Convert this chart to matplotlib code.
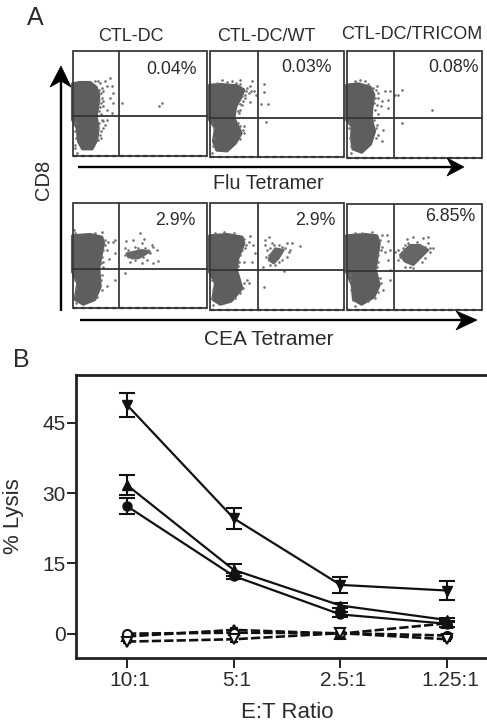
import matplotlib
matplotlib.use("Agg")
import matplotlib.pyplot as plt
from matplotlib.patches import Polygon, Rectangle
from matplotlib.transforms import ScaledTranslation

plt.rcParams['font.family'] = ['Liberation Sans', 'DejaVu Sans']

W, H = 487, 725

# lysis data
ratios = ["10:1", "5:1", "2.5:1", "1.25:1"]
ticks_y = [0, 15, 30, 45]
down_filled = [48.8, 24.6, 10.4, 9.2]
down_filled_err = [2.5, 2.2, 1.7, 2.1]
up_filled = [31.7, 13.6, 6.0, 2.9]
up_filled_err = [2.2, 1.3, 0.5, 0.5]
circ_filled = [27.2, 12.3, 4.1, 2.1]
circ_filled_err = [1.7, 0.7, 0.5, 0.6]
circ_open = [0.0, 0.2, 0.1, -0.4]
up_open = [-0.6, 0.8, 0.0, 2.2]
down_open = [-1.7, -1.2, 0.1, -1.2]
dash_err = [0.4, 0.5, 0.3, 0.4]

# flow panels, read in crop units (420 x 336 for each panel)
titles = ["CTL-DC", "CTL-DC/WT", "CTL-DC/TRICOM"]
percents = ["0.04%", "0.03%", "0.08%", "2.9%", "2.9%", "6.85%"]
frames = [(8, 412, 8, 325), (8, 412, 10, 328), (5, 412, 10, 330),
          (8, 412, 8, 325), (8, 412, 10, 330), (5, 412, 12, 330)]
gates = [(148, 205), (153, 210), (148, 210), (148, 207), (152, 210), (148, 212)]

clouds = [
    [(8,108),(30,104),(60,104),(78,118),(86,140),(84,170),(78,205),(84,240),(80,275),(66,302),(38,302),(26,280),(22,240),(8,215)],
    [(8,112),(40,110),(90,114),(110,126),(100,150),(86,175),(80,210),(102,255),(85,285),(60,308),(30,306),(20,280),(26,240),(8,215)],
    [(5,112),(40,108),(75,118),(86,140),(80,180),(78,210),(88,250),(76,288),(50,312),(24,302),(20,270),(22,235),(5,215)],
    [(8,108),(60,104),(95,112),(100,130),(92,170),(86,205),(90,260),(74,298),(40,312),(16,298),(24,250),(8,215)],
    [(8,108),(60,104),(105,112),(110,130),(92,175),(88,210),(104,265),(72,303),(40,312),(18,298),(26,250),(8,215)],
    [(5,108),(60,104),(95,108),(102,130),(96,170),(90,208),(102,255),(86,290),(50,312),(26,298),(22,255),(5,215)],
]
clusters = [
    None, None, None,
    [(170,160),(215,150),(240,155),(205,175),(175,172)],
    [(190,165),(205,145),(230,150),(215,175),(200,190),(185,180)],
    [(165,165),(195,135),(225,135),(250,150),(225,175),(205,195),(180,185)],
]
dots = [
    [(120,90),(125,115),(110,115),(130,135),(120,150),(128,165),(100,130),(105,100),(90,105),(95,150),(125,195),(100,175),(110,185),(155,165),(275,165),(268,175),(110,215),(100,240),(105,230),(90,260),(85,275),(95,215),(88,125),(92,165),(88,190),(84,240),(88,225),(15,250),(18,270),(14,290),(96,120),(94,135),(100,160),(90,178),(88,155),(92,198),(94,248),(92,270),(98,220),(75,98),(85,100),(14,225),(16,300),(22,315)],
    [(45,97),(75,100),(100,95),(135,100),(170,107),(170,133),(162,167),(182,167),(178,222),(130,115),(140,130),(148,140),(128,163),(115,140),(120,120),(105,170),(100,185),(95,195),(110,235),(100,235),(112,255),(92,225),(115,150),(125,135),(20,240),(22,270),(18,295),(118,130),(132,128),(108,158),(98,168),(92,188),(106,145),(100,108),(88,105),(60,102),(30,104),(108,245),(100,272),(14,225),(16,315)],
    [(45,97),(60,100),(95,115),(100,135),(120,130),(135,130),(150,140),(170,127),(160,140),(130,155),(110,160),(108,175),(95,170),(90,185),(98,198),(262,187),(170,225),(115,245),(100,260),(112,280),(95,230),(88,215),(12,240),(15,270),(18,295),(128,180),(92,125),(90,150),(98,150),(88,165),(94,240),(94,270),(30,100),(70,108),(84,120),(12,225),(18,315)],
    [(95,97),(115,125),(130,125),(135,120),(105,135),(110,150),(135,160),(118,178),(100,185),(98,200),(135,240),(110,258),(95,225),(165,218),(15,240),(18,265),(14,285),(104,120),(98,150),(96,170),(92,190),(94,240),(96,270),(82,290),(75,98),(12,90),(14,100),(18,310),
     (210,100),(168,122),(190,120),(222,118),(245,135),(250,140),(215,130),(195,140),(165,145),(260,150),(240,160),(265,182),(248,188),(232,180),(215,190),(180,185),(195,180),(165,165),(185,155),(205,145),(225,145),(175,150),(200,165),(220,170),(235,150),(185,175)],
    [(130,108),(125,125),(138,135),(115,145),(145,158),(135,185),(112,185),(120,240),(125,250),(108,265),(170,262),(230,212),(168,200),(15,240),(18,270),(16,295),(112,118),(116,135),(106,150),(100,165),(96,185),(92,198),(110,250),(100,280),(85,295),(50,97),(80,100),(25,98),(18,315),
     (175,120),(185,112),(175,135),(195,130),(180,150),(215,135),(240,130),(255,128),(278,138),(245,155),(240,170),(225,180),(190,195),(178,170),(235,145),(250,150),(190,145),(200,135),(225,140),(185,165),(205,195),(215,185)],
    [(80,95),(110,105),(125,105),(128,122),(110,140),(120,155),(135,150),(130,180),(135,210),(135,240),(115,270),(105,235),(15,240),(18,270),(25,300),(104,120),(108,150),(100,165),(98,185),(95,200),(108,250),(100,275),(90,295),(50,98),(30,100),(16,225),(30,318),(70,302),
     (185,118),(205,112),(235,115),(250,110),(215,125),(250,130),(265,145),(255,155),(160,150),(150,155),(175,145),(160,180),(240,175),(180,200),(205,205),(190,130),(170,155),(240,140),(255,145),(180,135),(230,185),(165,172),(195,200)],
]
# arrow shafts and heads on the page, in pixels
arrows = [
    ((61, 311), (61, 80), [(61, 66), (71, 87), (61, 81), (50, 87)]),
    ((78, 167), (452, 167), [(464, 167), (447, 176), (452, 167), (447, 158)]),
    ((80, 320), (462, 320), [(477, 320), (456, 330), (462, 320), (456, 311)]),
]


def px_rect(l, t, w, h):
    return [l / W, 1 - (t + h) / H, w / W, h / H]


fig = plt.figure(figsize=(W / 100, H / 100), dpi=100)

# overlay for labels and arrows, in pixels
ov = fig.add_axes([0, 0, 1, 1], zorder=5)
ov.set_xlim(0, W)
ov.set_ylim(H, 0)
ov.axis('off')

dark = '#2b2b2b'
origins = [(70, 48), (207, 48), (345, 48), (70, 200), (207, 200), (345, 200)]
pct_pos = [(305, 65), (297, 60), (325, 58), (317, 62), (325, 62), (315, 48)]
for i in range(6):
    ax = fig.add_axes(px_rect(origins[i][0], origins[i][1], 140, 112))
    ax.set_xlim(0, 420)
    ax.set_ylim(336, 0)
    ax.axis('off')
    l, r, t, b = frames[i]
    ax.add_patch(Polygon(clouds[i], closed=True, fc='#5e5e5e', ec='#5e5e5e', lw=2.5, joinstyle='round', zorder=2))
    if clusters[i]:
        ax.add_patch(Polygon(clusters[i], closed=True, fc='#666666', ec='#666666', lw=1.5, joinstyle='round', zorder=2))
    ax.scatter([p[0] for p in dots[i]], [p[1] for p in dots[i]], s=3.5, c='#707070', lw=0, zorder=2)
    ax.plot([l, r], [b, b], color='#222222', lw=1.6, ls=(0, (2, 1.5)), zorder=3)
    ax.add_patch(Rectangle((l, t), r - l, b - t, fill=False, ec='#3a3a3a', lw=1.3, zorder=4))
    ax.plot([gates[i][0], gates[i][0]], [t, b], color='#3a3a3a', lw=1.3, zorder=4)
    ax.plot([l, r], [gates[i][1], gates[i][1]], color='#333333', lw=1.3, zorder=4)
    ax.text(pct_pos[i][0], pct_pos[i][1], percents[i], fontsize=12.8, color=dark, ha='center', va='center', zorder=5)

ov.text(131, 36, titles[0], fontsize=13, color=dark, ha='center', va='center')
ov.text(266, 36, titles[1], fontsize=13, color=dark, ha='center', va='center')
ov.text(412, 34, titles[2], fontsize=13, color=dark, ha='center', va='center')
ov.text(35, 18, "A", fontsize=18, color=dark, ha='center', va='center')
ov.text(21, 360, "B", fontsize=18, color=dark, ha='center', va='center')
ov.text(268, 183, "Flu Tetramer", fontsize=14.2, color=dark, ha='center', va='center')
ov.text(269, 339, "CEA Tetramer", fontsize=15, color=dark, ha='center', va='center')
ov.text(44, 180, "CD8", fontsize=14.5, color=dark, ha='center', va='center', rotation=90)

for start, end, head in arrows:
    ov.plot([start[0], end[0]], [start[1], end[1]], color='black', lw=1.7, solid_capstyle='butt')
    ov.add_patch(Polygon(head, closed=True, fc='black', ec='black', lw=0.5))

# lysis plot
ax = fig.add_axes([76 / W, 1 - 658 / H, (W - 76 + 4) / W, (658 - 375) / H])
xs = list(range(len(ratios)))
style = dict(color='#111111', lw=1.6, capsize=6, capthick=1.5, elinewidth=1.5, ms=6.5)
dash_style = dict(color='#111111', lw=1.9, capsize=3, capthick=1.2, elinewidth=1.2, ms=6.5)
ax.errorbar(xs, up_open, yerr=dash_err, fmt='--^', mfc='#333333', mew=1.5, dashes=(3.5, 1.2), **dash_style)
ax.errorbar(xs, circ_open, yerr=dash_err, fmt='--o', mfc='white', mew=1.5, dashes=(3.5, 1.2), **dash_style)
ax.errorbar(xs, down_open, yerr=dash_err, fmt='--v', mfc='white', mew=1.5, dashes=(3.5, 1.2), **dash_style)
ax.errorbar(xs, down_filled, yerr=down_filled_err, fmt='-v', **style)
ax.errorbar(xs, up_filled, yerr=up_filled_err, fmt='-^', **style)
ax.errorbar(xs, circ_filled, yerr=circ_filled_err, fmt='-o', **style)

ax.set_xlim(-0.478, 3.41)
ax.set_ylim(-5.2, 55.2)
ax.set_xticks(xs)
ax.set_xticklabels(ratios, fontsize=15, color=dark)
ax.set_yticks(ticks_y)
ax.tick_params(axis='y', labelsize=15, labelcolor=dark, length=6.5, width=1.2, pad=1)
ax.tick_params(axis='x', length=7, width=1.2, pad=2)
shift = ScaledTranslation(3 / 100, 0, fig.dpi_scale_trans)
for lab in ax.get_xticklabels():
    lab.set_transform(lab.get_transform() + shift)
ax.set_ylabel("% Lysis", fontsize=16, color=dark, labelpad=13)
ax.set_xlabel("")
ov.text(287, 712, "E:T Ratio", fontsize=16, color=dark, ha='center', va='center')
for s in ax.spines.values():
    s.set_linewidth(2)
    s.set_color('#222222')
ax.spines['right'].set_visible(False)

fig.savefig("out.png", dpi=100)
